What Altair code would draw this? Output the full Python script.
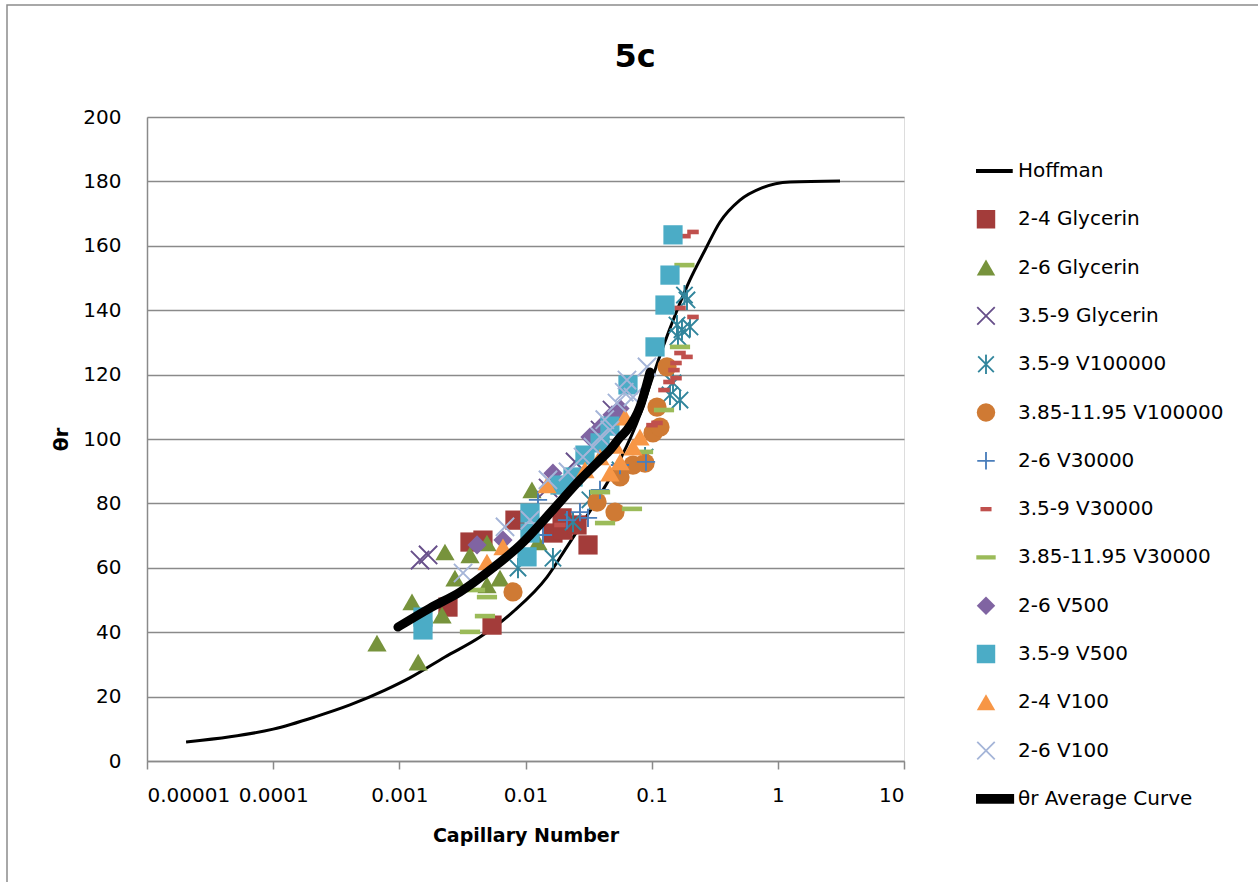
import altair as alt
import pandas as pd

# ---------------- data ----------------
SERIES = ["Hoffman", "2-4 Glycerin", "2-6 Glycerin", "3.5-9 Glycerin", "3.5-9 V100000",
          "3.85-11.95 V100000", "2-6 V30000", "3.5-9 V30000", "3.85-11.95 V30000",
          "2-6 V500", "3.5-9 V500", "2-4 V100", "2-6 V100", "θr Average Curve"]
COLORS = ["#000000", "#A33C3A", "#77933C", "#674F8A", "#31859C", "#CF7A34", "#4A7EBB",
          "#C0504D", "#9BBB59", "#8064A2", "#4BACC6", "#F79646", "#A5B5D8", "#000000"]

X_TICKS = [0.00001, 0.0001, 0.001, 0.01, 0.1, 1, 10]
X_TICK_LABELS = ["0.00001", "0.0001", "0.001", "0.01", "0.1", "1", "10"]
Y_TICKS = [0, 20, 40, 60, 80, 100, 120, 140, 160, 180, 200]

hoffman_ca = [2.04e-5, 4.55e-5, 1e-4, 2.15e-4, 4.06e-4, 7.7e-4, 1.21e-3, 2.3e-3, 4.36e-3,
              7.95e-3, 1.48e-2, 2.13e-2, 2.70e-2, 3.89e-2, 5.61e-2, 8.08e-2, 0.097, 0.123,
              0.159, 0.201, 0.265, 0.348, 0.501, 0.748, 1.25, 3.11]
hoffman_th = [5.9, 7.5, 9.9, 13.7, 17.4, 22, 25.8, 32.3, 38.5, 46.3, 57.1, 66.5, 72.7, 82.6,
              93.5, 107.5, 116.8, 128.6, 140, 149.4, 158.7, 167.4, 174.2, 178, 179.8, 180.1]

avg_ca = [0.000975, 0.00175, 0.00303, 0.00553, 0.00904, 0.0165, 0.0270, 0.0389, 0.0468,
          0.0561, 0.0637, 0.0808, 0.0970]
avg_th = [41.6, 47.5, 52.5, 60, 67, 78, 87.3, 93.5, 96.6, 100.5, 102.8, 110, 120.8]

g24_ca = [0.00243, 0.00363, 0.00460, 0.00543, 0.00825, 0.0165, 0.0195, 0.0313, 0.0198, 0.0256]
g24_th = [47.8, 68.0, 68.6, 42.2, 74.8, 70.8, 75.5, 67.1, 71.7, 73.3]

g26_ca = [0.000665, 0.00126, 0.00141, 0.00218, 0.00230, 0.00276, 0.00363, 0.00495, 0.00495,
          0.00628, 0.01125, 0.01256]
g26_th = [36.6, 49.4, 30.7, 45.3, 64.9, 56.8, 64.0, 67.7, 54.7, 56.8, 84.2, 68.0]

g359_ca = [0.00146, 0.00169, 0.0151, 0.0247, 0.0390, 0.0485]
g359_th = [62.4, 64.0, 84.8, 92.9, 102.8, 109.0]

v100k359_ca = [0.00872, 0.0165, 0.0238, 0.0324, 0.0561, 0.0886, 0.1397, 0.1677, 0.1476,
               0.1616, 0.1739, 0.2012, 0.1905, 0.1819, 0.1587]
v100k359_th = [59.9, 63.0, 74.2, 81.1, 90.4, 94.4, 113.7, 112.1, 117.4, 131.7, 133.9, 134.8,
               143.2, 144.7, 135.4]

v100k385_ca = [0.00796, 0.0369, 0.0512, 0.0561, 0.0711, 0.0886, 0.1024, 0.1164, 0.1102, 0.1323]
v100k385_th = [52.5, 80.4, 77.3, 88.2, 91.9, 92.5, 101.9, 103.7, 109.9, 122.4]

v30k26_ca = [0.01376, 0.02132, 0.03128, 0.01256, 0.02703, 0.03896, 0.05609, 0.09016]
v30k26_th = [70.2, 74.8, 75.5, 81.1, 77.3, 84.2, 91.9, 92.9]

v30k359_ca = [0.2126, 0.1836, 0.1677, 0.2126, 0.1677, 0.1905, 0.1559, 0.1502, 0.1559, 0.1372,
              0.1252, 0.1102, 0.1006, 0.01877]
v30k359_th = [164.3, 163.0, 140.7, 137.9, 126.7, 125.5, 123.6, 121.4, 118.9, 117.7, 115.2,
              105.0, 104.3, 73.3]

v30k385_ca = [0.00363, 0.00477, 0.00495, 0.00398, 0.0390, 0.0698, 0.0427, 0.0854, 0.1819,
              0.1677, 0.1252]
v30k385_th = [40.1, 45.0, 50.9, 53.1, 83.5, 78.3, 73.9, 96.0, 154.0, 128.6, 109.0]

v500_26_ca = [0.00413, 0.0165, 0.0324, 0.0485, 0.00663, 0.0390, 0.0561]
v500_26_th = [67.1, 89.4, 100.6, 107.5, 68.6, 103.5, 109.5]

v500_359_ca = [0.00154, 0.00154, 0.01085, 0.01085, 0.01028, 0.0238, 0.0390, 0.0649, 0.1063,
               0.1275, 0.1397, 0.1476, 0.0296, 0.01877, 0.0467]
v500_359_th = [40.7, 44.7, 77.0, 70.8, 63.4, 88.2, 98.8, 116.8, 128.6, 141.6, 150.9, 163.4,
               95.0, 85.7, 104.0]

v100_24_ca = [0.0148, 0.00663, 0.00495, 0.0467, 0.0561, 0.0711, 0.0808, 0.0390, 0.0614, 0.0296,
              0.0512]
v100_24_th = [85.7, 66.5, 61.8, 89.4, 92.9, 97.5, 100.6, 94.4, 106.8, 90.4, 98.0]

v100_26_ca = [0.00320, 0.00688, 0.01085, 0.02172, 0.02855, 0.03428, 0.04674, 0.05311, 0.07112,
              0.09182, 0.01507, 0.0637, 0.0606, 0.0390, 0.0425]
v100_26_th = [58.4, 72.7, 74.8, 89.8, 94.4, 97.5, 102.8, 111.2, 113.0, 122.4, 87.3, 118.3,
              114.5, 100.6, 106.0]

SCATTER = [
    ("2-4 Glycerin", g24_ca, g24_th),
    ("2-6 Glycerin", g26_ca, g26_th),
    ("3.5-9 Glycerin", g359_ca, g359_th),
    ("3.5-9 V100000", v100k359_ca, v100k359_th),
    ("3.85-11.95 V100000", v100k385_ca, v100k385_th),
    ("2-6 V30000", v30k26_ca, v30k26_th),
    ("3.5-9 V30000", v30k359_ca, v30k359_th),
    ("3.85-11.95 V30000", v30k385_ca, v30k385_th),
    ("2-6 V500", v500_26_ca, v500_26_th),
    ("3.5-9 V500", v500_359_ca, v500_359_th),
    ("2-4 V100", v100_24_ca, v100_24_th),
    ("2-6 V100", v100_26_ca, v100_26_th),
]

# ---------------- marker shapes (paths in units of the symbol radius) ----------------
HOFF_PATH = "M-2.9,-0.21H2.9V0.21H-2.9Z"
AVG_PATH = "M-3.05,-0.52H3.05V0.52H-3.05Z"
X_PATH = "M1.02,0.88L0.88,1.02L-1.02,-0.88L-0.88,-1.02Z M0.88,-1.02L1.02,-0.88L-0.88,1.02L-1.02,0.88Z"
ASTER_PATH = ("M0.92,0.78L0.78,0.92L-0.92,-0.78L-0.78,-0.92Z M0.78,-0.92L0.92,-0.78L-0.78,0.92L-0.92,0.78Z "
              "M0.1,-1.05L0.1,1.05L-0.1,1.05L-0.1,-1.05Z")
PLUS_PATH = "M-0.95,-0.1L0.95,-0.1L0.95,0.1L-0.95,0.1Z M0.1,-0.95L0.1,0.95L-0.1,0.95L-0.1,-0.95Z"
RED_DASH = "M-0.6,-0.24H0.6V0.24H-0.6Z"
GREEN_DASH = "M-1.05,-0.24H1.05V0.24H-1.05Z"
SHAPES = [HOFF_PATH, "square", "triangle-up", X_PATH, ASTER_PATH, "circle", PLUS_PATH,
          RED_DASH, GREEN_DASH, "diamond", "square", "triangle-up", X_PATH, AVG_PATH]

rows = []
for name, cas, ths in SCATTER:
    for c, t in zip(cas, ths):
        rows.append({"series": name, "ca": c, "theta": t})
pts = pd.DataFrame(rows)
hoff = pd.DataFrame({"ca": hoffman_ca, "theta": hoffman_th})
avg = pd.DataFrame({"ca": avg_ca, "theta": avg_th})

FONT = "DejaVu Sans"
GRID = "#8A8A8A"

x_label_expr = "[" + ",".join("'%s'" % s for s in X_TICK_LABELS) + "][round(log(datum.value)/LN10) + 5]"

xenc = alt.X("ca:Q", scale=alt.Scale(type="log", domain=[X_TICKS[0], X_TICKS[-1]]),
             axis=alt.Axis(values=X_TICKS, labelExpr=x_label_expr, title="Capillary Number",
                           grid=False, domainColor=GRID, domainWidth=1.5, tickColor=GRID,
                           tickWidth=1.5, tickSize=8, labelFont=FONT, labelFontSize=20,
                           labelColor="black", labelPadding=16, titleFont=FONT,
                           titleFontSize=19, titleFontWeight="bold", titleColor="black",
                           titlePadding=21))
yenc = alt.Y("theta:Q", scale=alt.Scale(domain=[0, 200]),
             axis=alt.Axis(values=Y_TICKS, title="θr", grid=True, gridColor=GRID,
                           gridWidth=1.5, domainColor=GRID, domainWidth=1.5, ticks=False,
                           labelFont=FONT, labelFontSize=20, labelColor="black",
                           labelPadding=26, titleFont=FONT, titleFontSize=20,
                           titleFontWeight="bold", titleColor="black", titlePadding=11))

legend = alt.Legend(orient="none", legendX=829, legendY=44, title=None, symbolSize=340,
                    clipHeight=20, rowPadding=28.3, labelFont=FONT, labelFontSize=20,
                    labelColor="black", labelOffset=22, labelLimit=400, padding=0,
                    symbolStrokeWidth=0, symbolOpacity=1)

frame = alt.Chart(pd.DataFrame({"k": [0]})).mark_rect(
    fill="transparent", stroke="#8C8C8C", strokeWidth=1.5
).encode(x=alt.value(-140), x2=alt.value(1112), y=alt.value(-112), y2=alt.value(768))

hoff_line = alt.Chart(hoff).mark_line(color="black", strokeWidth=3, interpolate="monotone").encode(
    x=xenc, y=yenc)

points = alt.Chart(pts).mark_point(filled=True, size=370, opacity=1).encode(
    x="ca:Q", y="theta:Q",
    color=alt.Color("series:N", scale=alt.Scale(domain=SERIES, range=COLORS), legend=legend),
    shape=alt.Shape("series:N", scale=alt.Scale(domain=SERIES, range=SHAPES), legend=legend),
)

avg_line = alt.Chart(avg).mark_line(color="black", strokeWidth=9, strokeCap="round",
                                    interpolate="monotone").encode(x="ca:Q", y="theta:Q")

chart = alt.layer(frame, hoff_line, points, avg_line).properties(
    width=757, height=644,
    padding={"left": 147, "top": 117, "right": 354, "bottom": 121},
    autosize=alt.AutoSizeParams(type="none"),
    title=alt.Title("5c", font=FONT, fontSize=32, fontWeight="bold", color="black",
                    anchor="middle", frame="group", dx=109.5, offset=-94.75,
                    baseline="alphabetic"),
).configure_view(stroke="transparent").configure(background="white")

chart.save("out.html", embed_options={"renderer": "svg", "actions": False})
